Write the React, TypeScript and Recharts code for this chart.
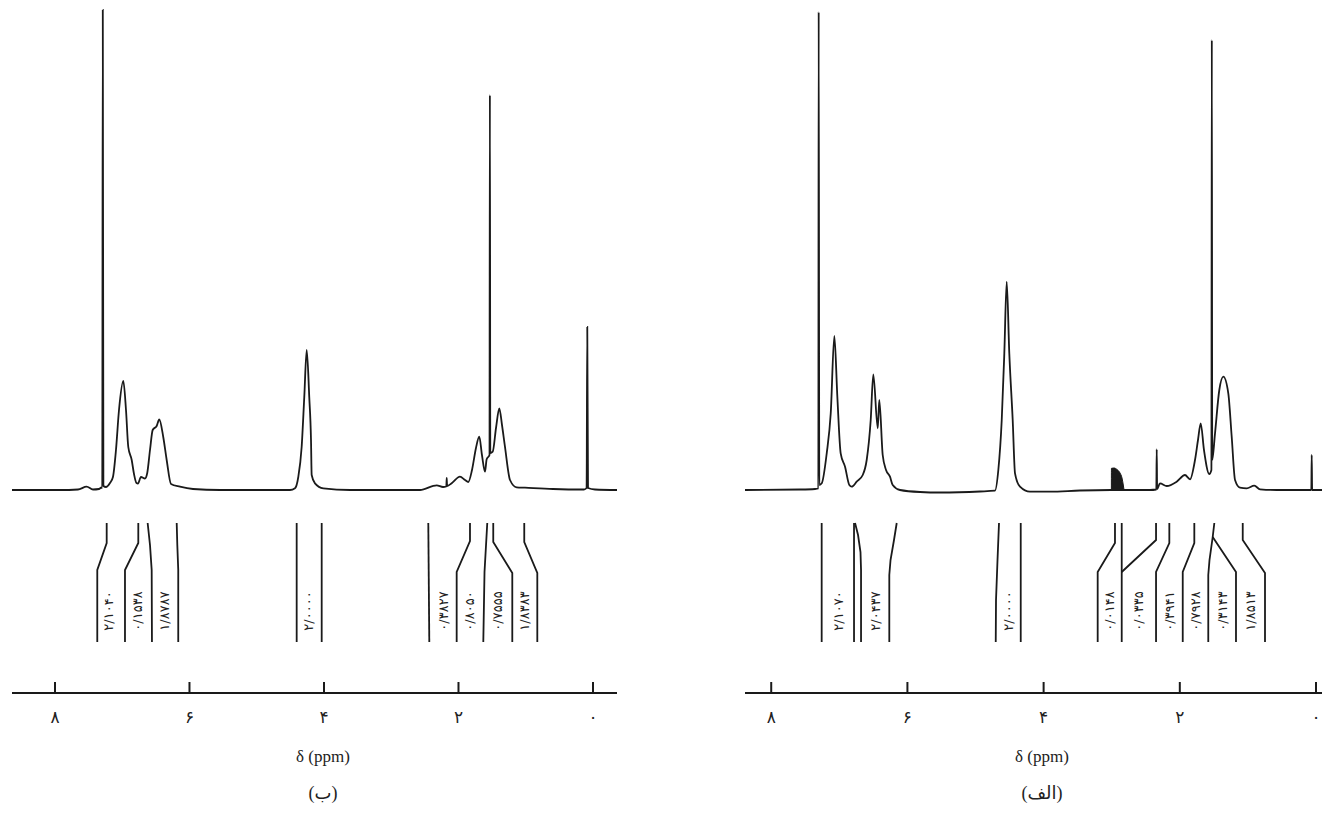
import React from 'react';
import { ComposedChart, Line, Area, Scatter, XAxis, YAxis } from 'recharts';

// ---------- data ----------
const FA_DIGITS = ['۰', '۱', '۲', '۳', '۴', '۵', '۶', '۷', '۸', '۹'];
const toFa = (n: number | string) =>
  String(n)
    .split('')
    .map((c) => (c >= '0' && c <= '9' ? FA_DIGITS[+c] : c))
    .join('');

const xTicks = [0, 2, 4, 6, 8];
const leftDomain: [number, number] = [-0.357, 8.639];
const rightDomain: [number, number] = [-0.088, 8.385];
const yDomain: [number, number] = [-203, 490];

// [ppm, intensity]
const leftSpectrum: [number, number][] = [
  [8.639, 0], [7.926, 0], [7.658, 0.5], [7.529, 3.3], [7.435, 0.5], [7.346, 1],
  [7.309, 2.5], [7.297, 2], [7.289, 480], [7.28, 4], [7.242, 3], [7.182, 7],
  [7.138, 13], [7.093, 40], [7.048, 80], [6.984, 109], [6.944, 80], [6.91, 43],
  [6.859, 30], [6.825, 16], [6.788, 7], [6.766, 6.5], [6.721, 13], [6.662, 11.5],
  [6.628, 17], [6.587, 40], [6.547, 60], [6.488, 64], [6.449, 70.5], [6.39, 53],
  [6.339, 30], [6.275, 6], [6.141, 3.3], [5.948, 1], [5.546, 0], [4.506, 0],
  [4.431, 1.7], [4.382, 13], [4.332, 43], [4.293, 93], [4.257, 140], [4.219, 93],
  [4.193, 50], [4.183, 15], [4.134, 6.7], [4.01, 1.7], [3.613, 0], [2.572, 0],
  [2.324, 4.7], [2.23, 3], [2.181, 3.5], [2.175, 12], [2.17, 4], [2.097, 7],
  [1.978, 13.3], [1.903, 10], [1.854, 8], [1.799, 20], [1.74, 42], [1.691, 53.3],
  [1.651, 35], [1.606, 18.3], [1.581, 30.7], [1.539, 35], [1.533, 395], [1.527, 37],
  [1.491, 38.3], [1.442, 62], [1.393, 81.7], [1.353, 65], [1.309, 43.3], [1.234, 10],
  [1.135, 2.7], [1.011, 2.3], [0.595, 1], [0.134, 0.5], [0.095, 2], [0.085, 163],
  [0.074, 2], [-0.03, 0.5], [-0.357, 0],
];

const rightSpectrum: [number, number][] = [
  [8.385, 0], [7.577, 0.5], [7.357, 1], [7.308, 1.5], [7.303, 478], [7.294, 5],
  [7.258, 6.7], [7.185, 36.7], [7.126, 76.7], [7.073, 154], [7.029, 93.3], [6.98, 36.7],
  [6.916, 23.3], [6.853, 5], [6.818, 3.3], [6.745, 8.3], [6.656, 15], [6.598, 30],
  [6.539, 70], [6.501, 115.7], [6.436, 61.7], [6.413, 90], [6.363, 35], [6.314, 20],
  [6.256, 13.3], [6.216, 5], [6.109, 0], [5.815, -2], [5.521, -2.5], [4.934, -1.5],
  [4.714, -0.7], [4.665, 20], [4.615, 70], [4.577, 136.7], [4.542, 208.3], [4.504, 136.7],
  [4.454, 70], [4.42, 16.7], [4.347, 3.3], [4.2, -1.7], [3.906, -1.7], [3.466, -0.5],
  [3.01, 0], [2.438, 0], [2.345, 0.5], [2.339, 40.7], [2.333, 1], [2.291, 6.7],
  [2.192, 4], [2.046, 8.3], [1.924, 15], [1.85, 10.7], [1.777, 30], [1.733, 50],
  [1.693, 66.7], [1.645, 40], [1.567, 16], [1.536, 20], [1.53, 450], [1.524, 30],
  [1.483, 56.7], [1.42, 100], [1.361, 113.3], [1.288, 96.7], [1.238, 53.3], [1.189, 10],
  [1.116, 2.3], [1.018, 1.7], [0.906, 4.3], [0.822, 0.7], [0.577, 0], [0.069, 0],
  [0.063, 35], [0.057, 0], [-0.088, 0],
];

const rightBlob: [number, number][] = [
  [3.005, 0], [3.004, 21.7], [2.966, 22], [2.922, 20.5], [2.878, 17], [2.849, 12],
  [2.83, 5], [2.819, 0],
];

// integration traces [ppm, level]
const leftIntegrals: [number, number][][] = [
  [[7.231, -33], [7.231, -53], [7.371, -80], [7.371, -152]],
  [[6.761, -33], [6.761, -53], [6.959, -80], [6.959, -152]],
  [[6.622, -33], [6.587, -55], [6.562, -80], [6.558, -152]],
  [[6.19, -33], [6.181, -55], [6.167, -80], [6.167, -152]],
  [[4.406, -33], [4.406, -152]],
  [[4.034, -33], [4.034, -152]],
  [[2.449, -33], [2.434, -152]],
  [[1.829, -33], [1.829, -51], [2.027, -82], [2.027, -152]],
  [[1.572, -33], [1.613, -82], [1.631, -152]],
  [[1.483, -33], [1.483, -52], [1.2, -83], [1.2, -152]],
  [[1.022, -33], [1.022, -52], [0.828, -83], [0.828, -152]],
];

const rightIntegrals: [number, number][][] = [
  [[7.259, -33], [7.259, -152]],
  [[6.784, -33], [6.784, -152]],
  [[6.769, -33], [6.725, -45], [6.689, -62], [6.681, -80], [6.681, -152]],
  [[6.157, -33], [6.197, -50], [6.248, -70], [6.266, -85], [6.266, -152]],
  [[4.655, -33], [4.677, -70], [4.699, -110], [4.703, -152]],
  [[4.336, -33], [4.336, -152]],
  [[2.952, -33], [2.952, -53], [3.206, -82], [3.206, -152]],
  [[2.853, -33], [2.853, -152]],
  [[2.349, -33], [2.349, -50], [2.853, -82]],
  [[2.154, -33], [2.154, -53], [2.349, -82], [2.349, -152]],
  [[1.787, -33], [1.787, -53], [1.957, -82], [1.957, -152]],
  [[1.493, -33], [1.517, -47], [1.564, -70], [1.582, -85], [1.582, -152]],
  [[1.517, -47], [1.175, -82], [1.175, -152]],
  [[1.076, -33], [1.076, -50], [0.749, -83], [0.749, -152]],
];

const leftLabelPpm = [7.197, 6.773, 6.364, 4.23, 2.23, 1.829, 1.42, 1.011];
const leftLabelText = ['2/1040', '0/1538', '1/8787', '2/0000', '0/3827', '0/8050', '0/7555', '1/8383'];
const rightLabelPpm = [7.019, 6.476, 4.52, 3.029, 2.601, 2.153, 1.769, 1.377, 0.962];
const rightLabelText = ['2/1070', '2/0437', '2/0000', '0/0148', '0/0335', '0/3941', '0/7928', '0/3143', '1/8513'];
const labelLevel = -121;

// ---------- helpers ----------
const toPts = (arr: [number, number][]) => arr.map(([ppm, v]) => ({ ppm, v }));
const INK = '#1a1a1a';
const FA_FONT = "'DejaVu Sans', sans-serif";

const AxisTick = (props: any) => {
  const { x, y, payload } = props;
  return (
    <g>
      <line x1={x} x2={x} y1={y} y2={y - 11} stroke={INK} strokeWidth={2} />
      <text x={x} y={y + 30} textAnchor="middle" fontSize={17} fontFamily={FA_FONT} fill="#222">
        {toFa(payload.value)}
      </text>
    </g>
  );
};

const IntegralLabel = (props: any) => {
  const { cx, cy, payload } = props;
  return (
    <text
      x={cx}
      y={cy}
      transform={`rotate(-90 ${cx} ${cy})`}
      textAnchor="middle"
      dominantBaseline="central"
      fontSize={13}
      fontFamily={FA_FONT}
      fill="#222"
    >
      {payload.text}
    </text>
  );
};

type PanelProps = {
  left: number;
  width: number;
  domain: [number, number];
  spectrum: [number, number][];
  integrals: [number, number][][];
  labelPpm: number[];
  labelText: string[];
  blob?: [number, number][];
  title: string;
  titleCenter: number;
};

function Panel(p: PanelProps) {
  const labels = p.labelPpm.map((ppm, i) => ({ ppm, v: labelLevel, text: toFa(p.labelText[i]) }));
  return (
    <>
      <div style={{ position: 'absolute', left: p.left, top: 0 }}>
        <ComposedChart width={p.width} height={760} margin={{ top: 0, right: 0, bottom: 0, left: 0 }}>
          <XAxis
            type="number"
            dataKey="ppm"
            domain={p.domain}
            reversed
            allowDataOverflow
            ticks={xTicks}
            interval={0}
            height={67}
            axisLine={{ stroke: INK, strokeWidth: 2 }}
            tickLine={false}
            tickSize={0}
            tickMargin={0}
            tick={<AxisTick />}
          />
          <YAxis type="number" dataKey="v" domain={yDomain} allowDataOverflow hide width={0} />
          {p.blob && (
            <Area
              data={toPts(p.blob)}
              dataKey="v"
              type="monotone"
              baseValue={0}
              fill={INK}
              fillOpacity={1}
              stroke={INK}
              strokeWidth={1}
              isAnimationActive={false}
            />
          )}
          <Line
            data={toPts(p.spectrum)}
            dataKey="v"
            type="monotone"
            stroke={INK}
            strokeWidth={1.8}
            dot={false}
            isAnimationActive={false}
          />
          {p.integrals.map((seg, i) => (
            <Line
              key={i}
              data={toPts(seg)}
              dataKey="v"
              type="linear"
              stroke={INK}
              strokeWidth={1.8}
              dot={false}
              isAnimationActive={false}
            />
          ))}
          <Scatter data={labels} dataKey="v" shape={<IntegralLabel />} isAnimationActive={false} />
        </ComposedChart>
      </div>
      <div
        style={{
          position: 'absolute',
          left: p.titleCenter - 100,
          width: 200,
          top: 747,
          textAlign: 'center',
          fontFamily: "'Liberation Serif', 'Times New Roman', serif",
          fontSize: 17,
          color: '#222',
        }}
      >
        δ (ppm)
      </div>
      <div
        style={{
          position: 'absolute',
          left: p.titleCenter - 100,
          width: 200,
          top: 782,
          textAlign: 'center',
          fontFamily: "'Liberation Serif', 'DejaVu Sans', serif",
          fontSize: 18,
          color: '#222',
        }}
      >
        {p.title}
      </div>
    </>
  );
}

export default function App() {
  return (
    <div style={{ position: 'absolute', left: 0, top: 0, width: 1327, height: 813, background: '#fff', overflow: 'hidden' }}>
      <Panel
        left={12}
        width={605}
        domain={leftDomain}
        spectrum={leftSpectrum}
        integrals={leftIntegrals}
        labelPpm={leftLabelPpm}
        labelText={leftLabelText}
        title="(ب)"
        titleCenter={323}
      />
      <Panel
        left={745}
        width={577}
        domain={rightDomain}
        spectrum={rightSpectrum}
        integrals={rightIntegrals}
        labelPpm={rightLabelPpm}
        labelText={rightLabelText}
        blob={rightBlob}
        title="(الف)"
        titleCenter={1042}
      />
    </div>
  );
}
